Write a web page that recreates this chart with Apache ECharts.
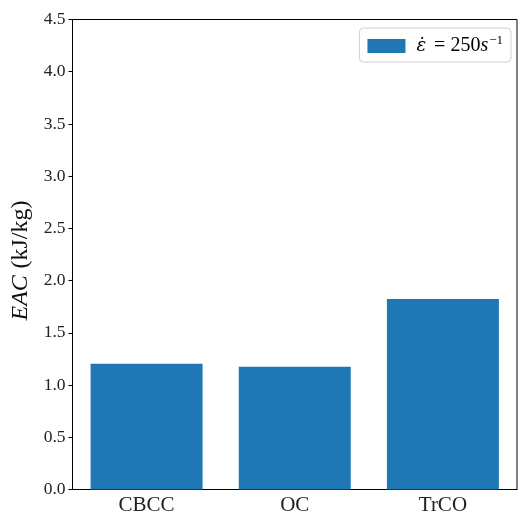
<!DOCTYPE html>
<html>
<head>
<meta charset="utf-8">
<script src="https://cdn.jsdelivr.net/npm/echarts@6/dist/echarts.min.js"></script>
<style>html,body{margin:0;padding:0;background:#fff}#c{width:518px;height:516px}</style>
</head>
<body>
<div id="c"></div>
<script>
const categories = ['CBCC', 'OC', 'TrCO'];
const eacValues = [1.205, 1.175, 1.825];
const yTicks = [0, 0.5, 1, 1.5, 2, 2.5, 3, 3.5, 4, 4.5];
const seriesName = 'strain250';

const serif = '"Liberation Serif", "DejaVu Serif", serif';
const chart = echarts.init(document.getElementById('c'));
chart.setOption({
  animation: false,
  backgroundColor: '#fff',
  grid: { left: 72.5, right: 1, top: 19.5, bottom: 26.5, containLabel: false, outerBoundsMode: 'none',
          show: true, borderColor: '#000', borderWidth: 1, backgroundColor: 'transparent' },
  legend: {
    right: 7, top: 28,
    data: [seriesName],
    icon: 'rect', itemWidth: 38, itemHeight: 14, itemGap: 10,
    padding: [6, 8, 6, 8],
    borderColor: '#d0d0d0', borderWidth: 1, borderRadius: 4,
    formatter: function () { return '{d|ε̇}{b| = 250}{a|s}{s|−1}'; },
    textStyle: {
      fontFamily: serif, fontSize: 20, color: '#000',
      rich: {
        d: { fontFamily: '"DejaVu Serif", serif', fontSize: 18, fontStyle: 'italic', color: '#000', padding: [0, 3, 0, 6] },
        a: { fontFamily: serif, fontSize: 20, fontStyle: 'italic', color: '#000' },
        b: { fontFamily: serif, fontSize: 20, color: '#000' },
        s: { fontFamily: serif, fontSize: 13, color: '#000', verticalAlign: 'top', padding: [0, 0, 11, 1] }
      }
    }
  },
  xAxis: {
    type: 'category', data: categories,
    axisLine: { lineStyle: { color: '#000', width: 1 } },
    axisTick: { alignWithLabel: true, length: 4, lineStyle: { color: '#000' } },
    axisLabel: { fontFamily: serif, fontSize: 21, color: '#222', margin: 5 }
  },
  yAxis: {
    type: 'value', min: 0, max: 4.5, interval: 0.5,
    splitLine: { show: false },
    axisLine: { show: true, lineStyle: { color: '#000', width: 1 } },
    axisTick: { show: true, length: 4, lineStyle: { color: '#000' } },
    axisLabel: { fontFamily: serif, fontSize: 17.5, color: '#222', margin: 7,
      formatter: function (v) { return yTicks.indexOf(v) >= 0 ? v.toFixed(1) : ''; } },
    name: '{i|EAC}  {n|(kJ/kg)}',
    nameLocation: 'middle', nameGap: 38, nameRotate: 90,
    nameTextStyle: {
      padding: [0, 12, 0, 0],
      rich: {
        i: { fontFamily: serif, fontSize: 24, fontStyle: 'italic', color: '#111' },
        n: { fontFamily: serif, fontSize: 24, color: '#111' }
      }
    }
  },
  series: [{
    name: seriesName, type: 'bar', data: eacValues,
    barWidth: 112,
    itemStyle: { color: '#1f77b4' }
  }]
});
</script>
</body>
</html>
